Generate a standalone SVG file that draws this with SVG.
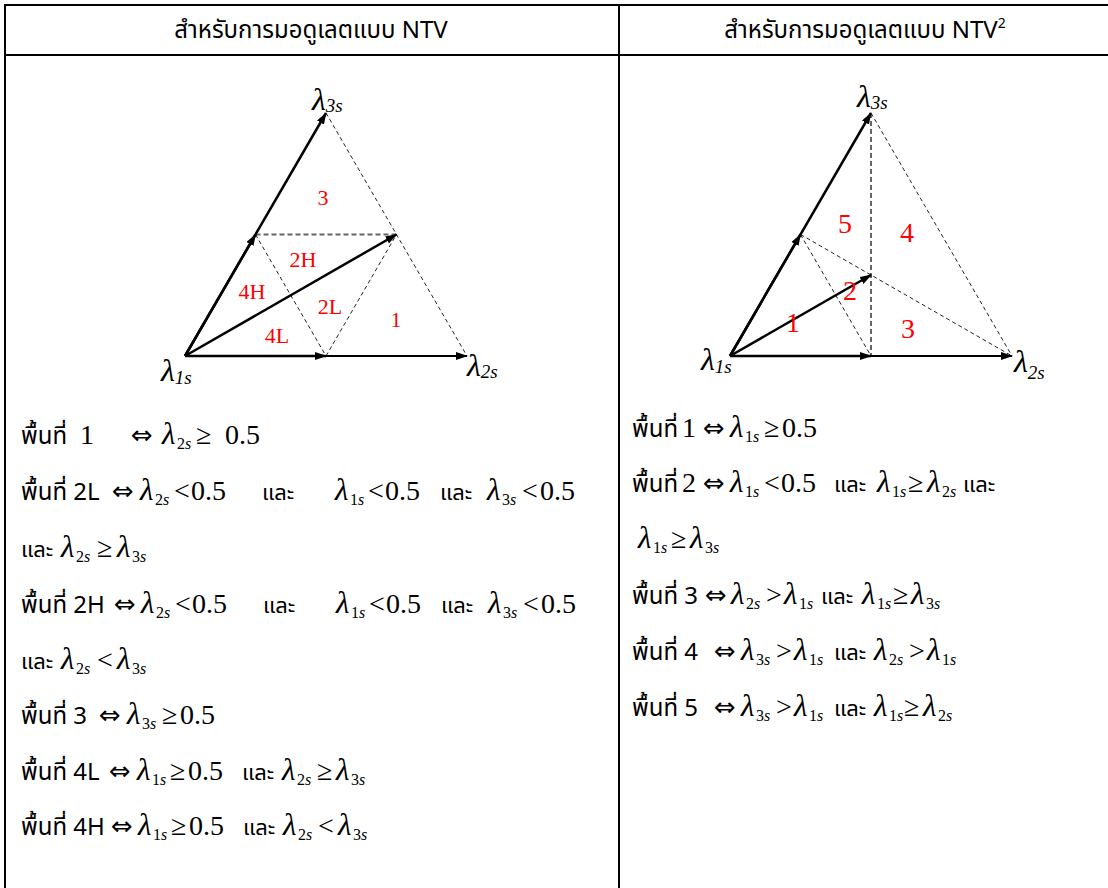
<svg xmlns="http://www.w3.org/2000/svg" width="1108" height="888" viewBox="0 0 1108 888">
<style>
.th{font-family:"Noto Sans Thai","Noto Sans Thai UI","Leelawadee UI",Tahoma,"Noto Sans",sans-serif;font-size:24px;fill:#000}
.an{font-family:"Noto Sans Thai","Noto Sans Thai UI","Leelawadee UI",Tahoma,"Noto Sans",sans-serif;font-size:22px;fill:#000}
.hd{font-family:"Noto Sans Thai","Noto Sans Thai UI","Leelawadee UI",Tahoma,"Noto Sans",sans-serif;font-size:24px;fill:#000}
.m{font-family:"Liberation Serif","DejaVu Serif",serif;font-size:28px;fill:#000}
.ar{font-family:"DejaVu Sans","Liberation Serif",serif;font-size:26px}
.l{font-family:"Liberation Serif","DejaVu Serif",serif;font-style:italic;font-size:31px}
.sb{font-family:"Liberation Serif",serif;font-size:16px;font-style:normal}
.si{font-family:"Liberation Serif",serif;font-size:16px;font-style:italic}
.vl{font-family:"Liberation Serif",serif;font-style:italic;font-size:32px}
.vs{font-family:"Liberation Serif",serif;font-size:19px}
.rl{font-family:"Liberation Serif",serif;fill:#f00;font-size:22px}
.rr{font-family:"Liberation Serif",serif;fill:#f00;font-size:28px}
.grid{stroke:#000;stroke-width:2;fill:none}
.ax{stroke:#000;stroke-width:2.5;fill:none;marker-end:url(#ah)}
.ax2{stroke:#000;stroke-width:2;fill:none;marker-end:url(#ah)}
.ds{stroke:#222;stroke-width:1;stroke-dasharray:4 3;fill:none}
.dg{stroke:#666;stroke-width:2;stroke-dasharray:5 3;fill:none}
</style>
<defs>
<marker id="ah" markerUnits="userSpaceOnUse" markerWidth="12" markerHeight="8" refX="11" refY="4" orient="auto">
<path d="M0,0 L12,4 L0,8 Z" fill="#000"/>
</marker>
</defs>
<rect width="1108" height="888" fill="#fff"/>
<g id="table">
<line class="grid" x1="4" y1="5" x2="1108" y2="5"/>
<line class="grid" x1="4" y1="55" x2="1108" y2="55"/>
<line class="grid" x1="5" y1="4" x2="5" y2="888"/>
<line class="grid" x1="619" y1="4" x2="619" y2="888"/>
</g>
<g id="header-left"><text class="hd" x="311" y="38" text-anchor="middle">สำหรับการมอดูเลตแบบ NTV</text></g>
<g id="header-right"><text class="hd" x="865" y="38" text-anchor="middle">สำหรับการมอดูเลตแบบ NTV<tspan font-size="14" dy="-10">2</tspan></text></g>

<g id="triangle-left">
<g id="connectors-left">
<line class="ds" x1="326" y1="113" x2="467" y2="356"/>
<line class="dg" x1="255.5" y1="234.5" x2="396.5" y2="234.5" stroke-width="1.5"/>
<line class="ds" x1="255.5" y1="234.5" x2="326" y2="356"/>
<line class="ds" x1="326" y1="356" x2="396.5" y2="234.5"/>
<line class="ax2" x1="185" y1="356" x2="467" y2="356"/>
<line class="ax" x1="185" y1="356" x2="326" y2="356"/>
<line class="ax" x1="185" y1="356" x2="326" y2="113"/>
<line class="ax" x1="185" y1="356" x2="255.5" y2="234.5"/>
<line class="ax" x1="185" y1="356" x2="396.5" y2="234.5"/>
</g>
<text class="vl" x="312" y="110">λ<tspan class="vs" dy="2">3</tspan><tspan class="vs" font-style="italic">s</tspan></text>
<text class="vl" x="161" y="381">λ<tspan class="vs" dy="3">1</tspan><tspan class="vs" font-style="italic">s</tspan></text>
<text class="vl" x="467" y="376">λ<tspan class="vs" dy="2">2</tspan><tspan class="vs" font-style="italic">s</tspan></text>
<text class="rl" x="323" y="205" text-anchor="middle">3</text>
<text class="rl" x="303" y="267" text-anchor="middle">2H</text>
<text class="rl" x="252" y="299" text-anchor="middle">4H</text>
<text class="rl" x="330" y="314" text-anchor="middle">2L</text>
<text class="rl" x="396" y="327" text-anchor="middle">1</text>
<text class="rl" x="277" y="343" text-anchor="middle">4L</text>
</g>

<g id="triangle-right">
<g id="connectors-right">
<line class="ds" x1="871" y1="113" x2="1012" y2="356"/>
<line class="dg" x1="871" y1="113" x2="871" y2="356"/>
<line class="ds" x1="800.5" y1="234.5" x2="1012" y2="356"/>
<line class="ds" x1="800.5" y1="234.5" x2="871" y2="356"/>
<line class="ax2" x1="730" y1="356" x2="1012" y2="356"/>
<line class="ax" x1="730" y1="356" x2="871" y2="356"/>
<line class="ax" x1="730" y1="356" x2="871" y2="113"/>
<line class="ax" x1="730" y1="356" x2="800.5" y2="234.5"/>
<line class="ax" x1="730" y1="356" x2="871" y2="275"/>
</g>
<text class="vl" x="857" y="107">λ<tspan class="vs" dy="2">3</tspan><tspan class="vs" font-style="italic">s</tspan></text>
<text class="vl" x="701" y="370">λ<tspan class="vs" dy="3">1</tspan><tspan class="vs" font-style="italic">s</tspan></text>
<text class="vl" x="1014" y="372">λ<tspan class="vs" dy="7">2</tspan><tspan class="vs" font-style="italic">s</tspan></text>
<text class="rr" x="845" y="233" text-anchor="middle">5</text>
<text class="rr" x="907" y="242" text-anchor="middle">4</text>
<text class="rr" x="850" y="300" text-anchor="middle">2</text>
<text class="rr" x="793" y="332" text-anchor="middle">1</text>
<text class="rr" x="908" y="338" text-anchor="middle">3</text>
</g>

<g id="conditions-left">
<text><tspan class="th" x="21" y="444">พื้นที่</tspan><tspan class="m" x="80" y="444">1</tspan><tspan class="ar" x="131" y="444">⇔</tspan><tspan class="l" x="162" y="444">λ</tspan><tspan class="sb" x="177" y="449">2</tspan><tspan class="si">s</tspan><tspan class="m" x="196" y="444">≥</tspan><tspan class="m" x="225" y="444">0.5</tspan></text>

<text><tspan class="th" x="21" y="500">พื้นที่ 2L</tspan><tspan class="ar" x="112" y="500">⇔</tspan><tspan class="l" x="140" y="500">λ</tspan><tspan class="sb" x="155" y="505">2</tspan><tspan class="si">s</tspan><tspan class="m" x="174" y="500">&lt;</tspan><tspan class="m" x="191" y="500">0.5</tspan><tspan class="an" x="262" y="500">และ</tspan><tspan class="l" x="335" y="500">λ</tspan><tspan class="sb" x="350" y="505">1</tspan><tspan class="si">s</tspan><tspan class="m" x="368" y="500">&lt;</tspan><tspan class="m" x="385" y="500">0.5</tspan><tspan class="an" x="440" y="500">และ</tspan><tspan class="l" x="487" y="500">λ</tspan><tspan class="sb" x="502" y="505">3</tspan><tspan class="si">s</tspan><tspan class="m" x="522" y="500">&lt;</tspan><tspan class="m" x="540" y="500">0.5</tspan></text>

<text><tspan class="an" x="21" y="557">และ</tspan><tspan class="l" x="61" y="557">λ</tspan><tspan class="sb" x="76" y="562">2</tspan><tspan class="si">s</tspan><tspan class="m" x="97" y="557">≥</tspan><tspan class="l" x="117" y="557">λ</tspan><tspan class="sb" x="132" y="562">3</tspan><tspan class="si">s</tspan></text>

<text><tspan class="th" x="21" y="613">พื้นที่ 2H</tspan><tspan class="ar" x="114" y="613">⇔</tspan><tspan class="l" x="141" y="613">λ</tspan><tspan class="sb" x="156" y="618">2</tspan><tspan class="si">s</tspan><tspan class="m" x="175" y="613">&lt;</tspan><tspan class="m" x="192" y="613">0.5</tspan><tspan class="an" x="263" y="613">และ</tspan><tspan class="l" x="336" y="613">λ</tspan><tspan class="sb" x="351" y="618">1</tspan><tspan class="si">s</tspan><tspan class="m" x="369" y="613">&lt;</tspan><tspan class="m" x="386" y="613">0.5</tspan><tspan class="an" x="441" y="613">และ</tspan><tspan class="l" x="488" y="613">λ</tspan><tspan class="sb" x="503" y="618">3</tspan><tspan class="si">s</tspan><tspan class="m" x="523" y="613">&lt;</tspan><tspan class="m" x="541" y="613">0.5</tspan></text>

<text><tspan class="an" x="21" y="669">และ</tspan><tspan class="l" x="61" y="669">λ</tspan><tspan class="sb" x="76" y="674">2</tspan><tspan class="si">s</tspan><tspan class="m" x="97" y="669">&lt;</tspan><tspan class="l" x="117" y="669">λ</tspan><tspan class="sb" x="132" y="674">3</tspan><tspan class="si">s</tspan></text>

<text><tspan class="th" x="21" y="724">พื้นที่ 3</tspan><tspan class="ar" x="99" y="724">⇔</tspan><tspan class="l" x="127" y="724">λ</tspan><tspan class="sb" x="142" y="729">3</tspan><tspan class="si">s</tspan><tspan class="m" x="162" y="724">≥</tspan><tspan class="m" x="180" y="724">0.5</tspan></text>

<text><tspan class="th" x="21" y="780">พื้นที่ 4L</tspan><tspan class="ar" x="109" y="780">⇔</tspan><tspan class="l" x="137" y="780">λ</tspan><tspan class="sb" x="152" y="785">1</tspan><tspan class="si">s</tspan><tspan class="m" x="170" y="780">≥</tspan><tspan class="m" x="188" y="780">0.5</tspan><tspan class="an" x="242" y="780">และ</tspan><tspan class="l" x="282" y="780">λ</tspan><tspan class="sb" x="297" y="785">2</tspan><tspan class="si">s</tspan><tspan class="m" x="317" y="780">≥</tspan><tspan class="l" x="336" y="780">λ</tspan><tspan class="sb" x="351" y="785">3</tspan><tspan class="si">s</tspan></text>

<text><tspan class="th" x="21" y="835">พื้นที่ 4H</tspan><tspan class="ar" x="111" y="835">⇔</tspan><tspan class="l" x="138" y="835">λ</tspan><tspan class="sb" x="153" y="840">1</tspan><tspan class="si">s</tspan><tspan class="m" x="171" y="835">≥</tspan><tspan class="m" x="189" y="835">0.5</tspan><tspan class="an" x="243" y="835">และ</tspan><tspan class="l" x="283" y="835">λ</tspan><tspan class="sb" x="298" y="840">2</tspan><tspan class="si">s</tspan><tspan class="m" x="318" y="835">&lt;</tspan><tspan class="l" x="338" y="835">λ</tspan><tspan class="sb" x="353" y="840">3</tspan><tspan class="si">s</tspan></text>
</g>

<g id="conditions-right">
<text><tspan class="th" x="632" y="437">พื้นที่</tspan><tspan class="m" x="682" y="437">1</tspan><tspan class="ar" x="703" y="437">⇔</tspan><tspan class="l" x="730" y="437">λ</tspan><tspan class="sb" x="745" y="442">1</tspan><tspan class="si">s</tspan><tspan class="m" x="764" y="437">≥</tspan><tspan class="m" x="782" y="437">0.5</tspan></text>

<text><tspan class="th" x="632" y="492">พื้นที่</tspan><tspan class="m" x="682" y="492">2</tspan><tspan class="ar" x="703" y="492">⇔</tspan><tspan class="l" x="730" y="492">λ</tspan><tspan class="sb" x="745" y="497">1</tspan><tspan class="si">s</tspan><tspan class="m" x="764" y="492">&lt;</tspan><tspan class="m" x="781" y="492">0.5</tspan><tspan class="an" x="834" y="492">และ</tspan><tspan class="l" x="877" y="492">λ</tspan><tspan class="sb" x="892" y="497">1</tspan><tspan class="si">s</tspan><tspan class="m" x="908" y="492">≥</tspan><tspan class="l" x="927" y="492">λ</tspan><tspan class="sb" x="942" y="497">2</tspan><tspan class="si">s</tspan><tspan class="an" x="963" y="492">และ</tspan></text>

<text><tspan class="l" x="638" y="548">λ</tspan><tspan class="sb" x="653" y="553">1</tspan><tspan class="si">s</tspan><tspan class="m" x="671" y="548">≥</tspan><tspan class="l" x="690" y="548">λ</tspan><tspan class="sb" x="705" y="553">3</tspan><tspan class="si">s</tspan></text>

<text><tspan class="th" x="632" y="604">พื้นที่ 3</tspan><tspan class="ar" x="705" y="604">⇔</tspan><tspan class="l" x="731" y="604">λ</tspan><tspan class="sb" x="746" y="609">2</tspan><tspan class="si">s</tspan><tspan class="m" x="766" y="604">&gt;</tspan><tspan class="l" x="784" y="604">λ</tspan><tspan class="sb" x="799" y="609">1</tspan><tspan class="si">s</tspan><tspan class="an" x="821" y="604">และ</tspan><tspan class="l" x="862" y="604">λ</tspan><tspan class="sb" x="877" y="609">1</tspan><tspan class="si">s</tspan><tspan class="m" x="893" y="604">≥</tspan><tspan class="l" x="911" y="604">λ</tspan><tspan class="sb" x="926" y="609">3</tspan><tspan class="si">s</tspan></text>

<text><tspan class="th" x="632" y="660">พื้นที่ 4</tspan><tspan class="ar" x="714" y="660">⇔</tspan><tspan class="l" x="741" y="660">λ</tspan><tspan class="sb" x="756" y="665">3</tspan><tspan class="si">s</tspan><tspan class="m" x="776" y="660">&gt;</tspan><tspan class="l" x="794" y="660">λ</tspan><tspan class="sb" x="809" y="665">1</tspan><tspan class="si">s</tspan><tspan class="an" x="834" y="660">และ</tspan><tspan class="l" x="874" y="660">λ</tspan><tspan class="sb" x="889" y="665">2</tspan><tspan class="si">s</tspan><tspan class="m" x="909" y="660">&gt;</tspan><tspan class="l" x="927" y="660">λ</tspan><tspan class="sb" x="942" y="665">1</tspan><tspan class="si">s</tspan></text>

<text><tspan class="th" x="632" y="716">พื้นที่ 5</tspan><tspan class="ar" x="714" y="716">⇔</tspan><tspan class="l" x="741" y="716">λ</tspan><tspan class="sb" x="756" y="721">3</tspan><tspan class="si">s</tspan><tspan class="m" x="776" y="716">&gt;</tspan><tspan class="l" x="794" y="716">λ</tspan><tspan class="sb" x="809" y="721">1</tspan><tspan class="si">s</tspan><tspan class="an" x="834" y="716">และ</tspan><tspan class="l" x="874" y="716">λ</tspan><tspan class="sb" x="889" y="721">1</tspan><tspan class="si">s</tspan><tspan class="m" x="904" y="716">≥</tspan><tspan class="l" x="923" y="716">λ</tspan><tspan class="sb" x="938" y="721">2</tspan><tspan class="si">s</tspan></text>
</g>
</svg>
